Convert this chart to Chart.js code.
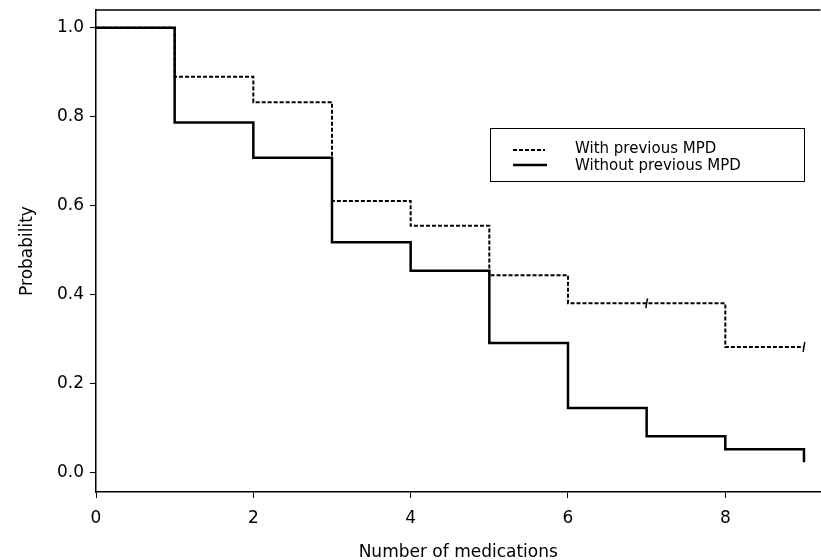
<!DOCTYPE html>
<html>
<head>
<meta charset="utf-8">
<script src="https://cdn.jsdelivr.net/npm/chart.js@4"></script>
<style>
  html, body { margin: 0; padding: 0; background: #fff; overflow: hidden; }
  #wrap { width: 821px; height: 560px; overflow: hidden; }
</style>
</head>
<body>
<div id="wrap"><canvas id="kmChart" width="827" height="560"></canvas></div>
<script>
// Number of medications (x) and survival probabilities
const medications = [0, 1, 2, 3, 4, 5, 6, 7, 8, 9];
const withPrevious = [1.0, 0.89, 0.833, 0.611, 0.555, 0.444, 0.381, 0.381, 0.283, 0.283];
const withoutPrevious = [1.0, 0.787, 0.708, 0.518, 0.454, 0.292, 0.146, 0.082, 0.053, 0.024];
// censor marks on the dashed curve
const censoredWith = [7, 9];

const xTicks = [0, 2, 4, 6, 8];
const yTicks = [0.0, 0.2, 0.4, 0.6, 0.8, 1.0];
const seriesNames = ['With previous MPD', 'Without previous MPD'];

const FONT = 'DejaVu Sans, Arial, sans-serif';

function toPoints(xs, ys) {
    return xs.map((x, i) => ({ x: x, y: ys[i] }));
}

// stepped value of the dashed curve at a censor time
function valueAt(xs, ys, x) {
    let v = ys[0];
    xs.forEach((xx, i) => { if (xx <= x) v = ys[i]; });
    return v;
}

// top frame line + boxed legend drawn inside the plot
const framePlugin = {
    id: 'frame',
    afterDraw(chart) {
        const ctx = chart.ctx;
        const a = chart.chartArea;
        ctx.save();
        ctx.strokeStyle = '#000';
        ctx.lineWidth = 1.5;
        ctx.beginPath();
        ctx.moveTo(a.left, a.top);
        ctx.lineTo(a.right, a.top);
        ctx.stroke();

        // legend box
        const bx = 490, by = 128, bw = 314, bh = 53;
        ctx.lineWidth = 1;
        ctx.strokeRect(bx + 0.5, by + 0.5, bw, bh);

        ctx.font = '15px ' + FONT;
        ctx.fillStyle = '#000';
        ctx.textBaseline = 'middle';
        // dashed sample
        ctx.lineWidth = 2;
        ctx.setLineDash([4, 2]);
        ctx.beginPath();
        ctx.moveTo(513, 150);
        ctx.lineTo(545, 150);
        ctx.stroke();
        // solid sample
        ctx.setLineDash([]);
        ctx.lineWidth = 2.5;
        ctx.beginPath();
        ctx.moveTo(513, 165);
        ctx.lineTo(547, 165);
        ctx.stroke();
        ctx.fillText(seriesNames[0], 575, 149);
        ctx.fillText(seriesNames[1], 575, 166);
        ctx.restore();
    }
};

const ctx = document.getElementById('kmChart').getContext('2d');

new Chart(ctx, {
    type: 'line',
    data: {
        datasets: [
            {
                label: seriesNames[0],
                data: toPoints(medications, withPrevious),
                borderColor: '#000',
                borderWidth: 2,
                borderDash: [4, 2],
                stepped: 'before',
                pointRadius: 0,
                fill: false
            },
            {
                label: seriesNames[1],
                data: toPoints(medications, withoutPrevious),
                borderColor: '#000',
                borderWidth: 2.5,
                stepped: 'before',
                pointRadius: 0,
                fill: false
            },
            {
                label: 'censored',
                data: censoredWith.map(x => ({ x: x, y: valueAt(medications, withPrevious, x) })),
                showLine: false,
                pointStyle: 'line',
                rotation: 100,
                pointRadius: 5,
                borderColor: '#000',
                pointBorderWidth: 1.5
            }
        ]
    },
    plugins: [framePlugin],
    options: {
        responsive: false,
        animation: false,
        layout: { padding: { top: 10, right: 0, left: 0, bottom: 0 } },
        plugins: {
            legend: { display: false },
            tooltip: { enabled: false }
        },
        scales: {
            x: {
                type: 'linear',
                min: 0,
                max: 9.21,
                afterBuildTicks: s => { s.ticks = xTicks.map(v => ({ value: v })); },
                afterFit: s => { s.height = 68; },
                grid: {
                    drawOnChartArea: false,
                    drawTicks: true,
                    tickLength: 6,
                    color: '#000',
                    lineWidth: 1
                },
                border: { display: true, color: '#000', width: 1.5 },
                ticks: {
                    color: '#000',
                    font: { family: FONT, size: 17 },
                    padding: 10,
                    maxRotation: 0,
                    callback: v => String(v)
                },
                title: {
                    display: true,
                    text: 'Number of medications',
                    color: '#000',
                    font: { family: FONT, size: 17 },
                    padding: { top: 0, bottom: -3 }
                }
            },
            y: {
                type: 'linear',
                min: -0.043,
                max: 1.04,
                afterBuildTicks: s => { s.ticks = yTicks.map(v => ({ value: v })); },
                afterFit: s => { s.width = 96; s.paddingTop = 0; s.paddingBottom = 0; },
                grid: {
                    drawOnChartArea: false,
                    drawTicks: true,
                    tickLength: 6,
                    color: '#000',
                    lineWidth: 1
                },
                border: { display: true, color: '#000', width: 1.5 },
                ticks: {
                    color: '#000',
                    font: { family: FONT, size: 17 },
                    padding: 6,
                    callback: v => Number(v).toFixed(1)
                },
                title: {
                    display: true,
                    text: 'Probability',
                    color: '#000',
                    font: { family: FONT, size: 17 },
                    padding: { top: 17, bottom: 0 }
                }
            }
        }
    }
});
</script>
</body>
</html>
